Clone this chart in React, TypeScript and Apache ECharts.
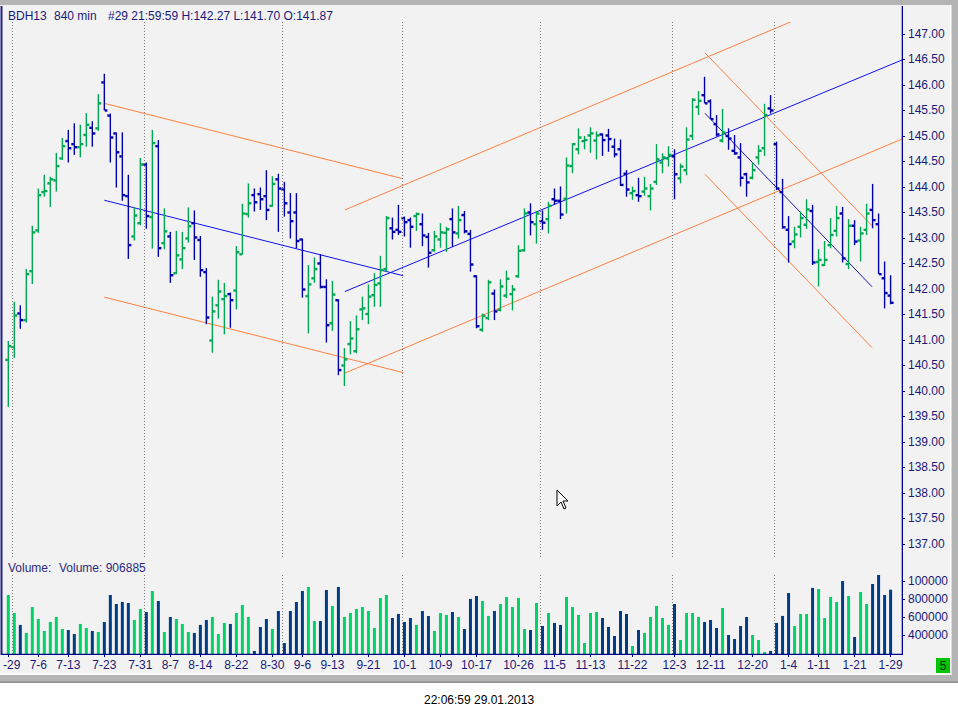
import React, { useEffect, useRef } from "react";
import * as echarts from "echarts";

// ---- price data (OHLC per 840-min bar) ----
const opens = [
  140.61, 140.86, 141.52, 141.39, 142.35, 143.15, 143.90, 144.07, 144.13, 144.56,
  144.90, 144.84, 144.78, 145.02, 145.16, 145.15, 146.05, 145.40, 145.05, 144.60,
  143.82, 143.03, 143.29, 144.44, 143.41, 144.80, 142.90, 143.03, 142.31, 142.58,
  142.99, 143.29, 142.96, 142.33, 140.99, 141.68, 141.80, 141.90, 141.97, 142.68,
  143.47, 143.84, 143.86, 143.82, 143.63, 144.15, 143.95, 143.50, 143.50, 142.97,
  141.86, 142.21, 142.50, 142.04, 141.33, 141.78, 140.50, 140.92, 140.78, 141.60,
  141.51, 141.88, 142.11, 142.39, 143.19, 143.16, 143.39, 143.35, 143.43, 143.27,
  143.02, 142.76, 142.97, 143.10, 143.37, 143.09, 143.45, 143.08, 142.25, 141.20,
  141.43, 141.91, 141.59, 141.87, 141.90, 142.25, 142.76, 143.50, 143.27, 143.33,
  143.37, 143.76, 143.73, 143.77, 144.41, 144.74, 144.90, 145.01, 144.91, 145.03,
  145.01, 144.79, 144.74, 144.26, 143.88, 143.84, 143.91, 143.82, 144.10, 144.48,
  144.56, 144.60, 144.17, 144.33, 145.00, 145.57, 145.80, 145.68, 145.23, 144.91,
  145.00, 144.71, 144.58, 144.25, 144.18, 144.58, 144.76, 145.54, 144.84, 143.90,
  143.16, 142.93, 143.22, 143.26, 143.53, 142.53, 142.47, 142.86, 143.14, 143.48,
  142.49, 143.24, 142.95, 143.16, 143.55, 143.27, 142.21, 141.87,
];
const highs = [
  140.98, 141.75, 141.68, 142.39, 143.24, 143.97, 144.24, 144.20, 144.67, 144.96,
  145.12, 145.25, 145.22, 145.45, 145.29, 145.82, 146.22, 145.44, 145.07, 145.07,
  144.24, 143.60, 144.57, 144.48, 145.12, 144.92, 143.58, 143.12, 143.14, 143.12,
  143.60, 143.54, 143.04, 142.41, 141.85, 142.18, 142.12, 141.93, 142.84, 143.67,
  144.07, 143.97, 143.99, 144.33, 144.21, 144.26, 144.10, 143.88, 143.88, 142.99,
  142.47, 142.62, 142.68, 142.19, 142.16, 141.80, 140.84, 141.37, 141.48, 141.85,
  142.09, 142.31, 142.65, 143.43, 143.40, 143.65, 143.42, 143.40, 143.50, 143.48,
  143.10, 143.14, 143.29, 143.22, 143.58, 143.63, 143.53, 143.16, 142.27, 141.52,
  142.18, 141.99, 142.19, 142.36, 142.08, 142.86, 143.58, 143.68, 143.53, 143.54,
  143.71, 143.97, 144.01, 144.58, 144.86, 145.15, 145.00, 145.17, 145.09, 145.05,
  145.14, 144.95, 144.93, 144.33, 144.01, 144.18, 144.20, 144.06, 144.84, 144.66,
  144.80, 144.74, 144.46, 145.17, 145.74, 145.88, 146.16, 145.72, 145.41, 145.53,
  145.15, 145.02, 144.86, 144.28, 144.48, 144.82, 145.63, 145.80, 144.89, 144.16,
  143.43, 143.22, 143.52, 143.76, 143.65, 142.78, 142.94, 143.39, 143.63, 143.61,
  143.37, 143.35, 143.22, 143.67, 144.06, 143.48, 142.54, 142.27,
];
const lows = [
  139.69, 140.65, 141.22, 141.34, 142.10, 143.10, 143.81, 143.61, 143.91, 144.53,
  144.48, 144.63, 144.58, 144.79, 144.79, 145.10, 145.50, 144.48, 143.99, 143.73,
  142.59, 142.95, 143.25, 143.18, 142.79, 142.63, 142.78, 142.12, 142.29, 142.39,
  142.91, 142.57, 142.24, 141.31, 140.75, 141.42, 141.11, 141.24, 141.60, 142.67,
  143.40, 143.52, 143.55, 143.35, 143.61, 143.12, 143.42, 142.99, 142.80, 141.83,
  141.13, 142.12, 142.01, 140.95, 141.18, 140.31, 140.10, 140.72, 140.74, 141.39,
  141.31, 141.65, 141.65, 142.34, 142.97, 143.06, 143.03, 142.81, 143.14, 142.84,
  142.42, 142.73, 142.81, 142.73, 142.83, 142.99, 143.09, 142.34, 141.23, 141.16,
  141.39, 141.39, 141.56, 141.82, 141.58, 142.22, 142.73, 143.05, 142.89, 143.16,
  143.09, 143.65, 143.37, 143.48, 144.27, 144.64, 144.74, 144.67, 144.54, 144.61,
  144.69, 144.58, 144.02, 143.81, 143.75, 143.71, 143.83, 143.54, 144.04, 144.27,
  144.40, 143.76, 144.07, 144.23, 144.92, 145.41, 145.64, 145.33, 144.99, 144.87,
  144.73, 144.63, 144.01, 143.81, 144.15, 144.44, 144.61, 145.44, 143.94, 143.18,
  142.52, 142.80, 143.01, 143.18, 142.47, 142.05, 142.45, 142.80, 143.03, 142.52,
  142.39, 142.86, 142.54, 143.06, 143.19, 142.29, 141.62, 141.70,
];
const closes = [
  140.88, 141.48, 141.39, 142.29, 143.11, 143.84, 143.92, 144.15, 144.41, 144.80,
  144.76, 144.78, 144.84, 145.22, 145.05, 145.64, 145.50, 144.97, 144.68, 143.84,
  142.86, 143.44, 144.44, 143.43, 144.86, 142.80, 143.13, 142.27, 142.66, 142.80,
  143.23, 143.01, 142.37, 141.44, 141.56, 141.95, 141.86, 141.78, 142.72, 143.48,
  143.68, 143.70, 143.76, 143.55, 144.06, 143.97, 143.68, 143.33, 142.94, 141.99,
  142.09, 142.39, 142.04, 141.29, 141.89, 140.41, 140.62, 141.03, 141.21, 141.62,
  141.85, 142.08, 142.37, 143.39, 143.12, 143.12, 143.31, 143.22, 143.47, 143.05,
  142.71, 143.03, 143.11, 143.17, 143.11, 143.35, 143.13, 142.48, 141.27, 141.47,
  142.13, 141.56, 142.05, 142.20, 141.99, 142.75, 143.48, 143.31, 143.48, 143.30,
  143.63, 143.73, 143.46, 144.42, 144.84, 144.97, 144.92, 145.05, 145.01, 144.92,
  144.94, 144.64, 144.04, 143.95, 143.92, 143.82, 143.97, 143.97, 144.54, 144.58,
  144.63, 144.25, 144.40, 144.93, 145.71, 145.69, 145.64, 145.33, 145.03, 145.07,
  144.95, 144.66, 144.18, 144.09, 144.33, 144.71, 145.41, 145.50, 143.97, 143.21,
  142.88, 143.07, 143.39, 143.56, 142.52, 142.57, 142.57, 143.06, 143.39, 142.60,
  143.24, 142.93, 143.09, 143.48, 143.35, 142.29, 141.92, 141.73,
];
const volumes = [
  848000, 648000, 515000, 426000, 714000, 581000, 448000, 548000, 603000, 470000,
  459000, 414000, 526000, 481000, 448000, 437000, 548000, 848000, 748000, 770000,
  759000, 570000, 692000, 659000, 892000, 781000, 437000, 603000, 581000, 526000,
  437000, 426000, 515000, 570000, 603000, 414000, 537000, 526000, 648000, 737000,
  603000, 226000, 492000, 581000, 470000, 670000, 314000, 670000, 770000, 892000,
  937000, 559000, 559000, 903000, 726000, 937000, 603000, 648000, 692000, 714000,
  670000, 481000, 814000, 848000, 592000, 637000, 548000, 592000, 515000, 670000,
  614000, 448000, 648000, 626000, 659000, 603000, 470000, 803000, 837000, 781000,
  615000, 670000, 748000, 826000, 714000, 815000, 470000, 459000, 759000, 503000,
  648000, 537000, 515000, 826000, 714000, 626000, 314000, 648000, 659000, 592000,
  492000, 392000, 670000, 637000, 281000, 459000, 426000, 603000, 726000, 592000,
  515000, 748000, 348000, 648000, 648000, 603000, 548000, 570000, 481000, 703000,
  403000, 359000, 503000, 603000, 403000, 348000, 214000, 226000, 537000, 615000,
  870000, 503000, 637000, 637000, 926000, 914000, 592000, 826000, 770000, 1003000,
  837000, 381000, 881000, 748000, 970000, 1070000, 848000, 906885,
];

// ---- axis labels ----
const tickIdx = [0, 5, 10, 16, 22, 27, 32, 38, 44, 49, 54, 60, 66, 72, 78, 85, 91, 97, 104, 111, 117, 124, 130, 135, 141, 147];
const tickLabels = ["6-29", "7-6", "7-13", "7-23", "7-31", "8-7", "8-14", "8-22", "8-30", "9-6", "9-13", "9-21", "10-1", "10-9", "10-17", "10-26", "11-5", "11-13", "11-22", "12-3", "12-11", "12-20", "1-4", "1-11", "1-21", "1-29"];
const priceTicks = [137, 137.5, 138, 138.5, 139, 139.5, 140, 140.5, 141, 141.5, 142, 142.5, 143, 143.5, 144, 144.5, 145, 145.5, 146, 146.5, 147];
const volumeTicks = [400000, 600000, 800000, 1000000];
const monthBreaks = [0.67, 22.67, 45.7, 65.7, 88.67, 110.7, 127.67];
const lastPrice = 141.73;
const lastVolume = 906885;

// ---- trend lines (bar index, price) ----
const trendFrom = [
  [16, 145.64], [16, 143.74], [16, 141.84],
  [56.07, 143.55], [56.07, 140.35], [56.07, 141.95],
  [116.07, 146.63], [116.07, 144.25], [116.07, 145.445],
];
const trendTo = [
  [65.8, 144.16], [65.8, 142.26], [65.8, 140.36],
  [130.3, 147.235], [148.9, 144.94], [148.9, 146.49],
  [143.9, 143.24], [143.9, 140.85], [143.9, 142.045],
];
const trendKind = ["o", "b", "o", "o", "o", "b", "o", "o", "d"];

const FONT = "'Liberation Sans', Arial, sans-serif";
const GREEN = "#00a651";
const BLUE = "#0000a8";
const VGREEN = "#00d468";
const VBLUE = "#003d86";
const NAVY = "#1a1a78";
const AXIS = "#00008e";
const ORANGE = "#ff8040";
const TBLUE = "#1010f0";
const DBLUE = "#1a1aa8";

const X_MIN = -1.05;
const X_MAX = 148.9;

export default function App() {
  const ref = useRef<HTMLDivElement>(null);

  useEffect(() => {
    if (!ref.current) return;
    const chart = echarts.init(ref.current, undefined, { renderer: "svg" });

    const ohlc = opens.map((o, i) => [i, o, highs[i], lows[i], closes[i]]);
    const colorOf = (i: number) => (closes[i] >= opens[i] ? GREEN : BLUE);

    const trendSeries: any[] = trendFrom.map((f, k) => ({
      type: "line",
      xAxisIndex: 0,
      yAxisIndex: 0,
      data: [f, trendTo[k]],
      symbol: "none",
      silent: true,
      z: 3,
      lineStyle: {
        width: 1,
        color: trendKind[k] === "o" ? ORANGE : trendKind[k] === "b" ? TBLUE : DBLUE,
      },
    }));

    trendSeries[0].markLine = {
      silent: true,
      symbol: ["none", "none"],
      label: { show: false },
      lineStyle: { type: [1, 2], color: "#7c7c7c", width: 1 },
      data: monthBreaks.map((x) => ({ xAxis: x })),
    };
    trendSeries[1].markLine = {
      silent: true,
      symbol: ["none", "none"],
      data: [
        {
          yAxis: lastPrice,
          lineStyle: { opacity: 0 },
          label: {
            show: true,
            position: "end",
            distance: 4,
            formatter: lastPrice.toFixed(2),
            color: "#ffffff",
            backgroundColor: "#0a0a6e",
            padding: [2, 2, 1, 2],
            fontSize: 12,
            fontFamily: FONT,
          },
        },
      ],
    };

    const labelMap: Record<number, string> = {};
    tickIdx.forEach((t, i) => (labelMap[t] = tickLabels[i]));

    const hiddenLine = { show: false, onZero: false };

    const option: any = {
      animation: false,
      backgroundColor: "#ffffff",
      grid: [
        { left: 2, right: 56, top: 22, height: 535, outerBoundsMode: "none" },
        { left: 2, right: 56, top: 575, height: 79, outerBoundsMode: "none" },
      ],
      xAxis: [
        {
          type: "value",
          gridIndex: 0,
          min: X_MIN,
          max: X_MAX,
          axisLine: hiddenLine,
          axisTick: { show: false },
          axisLabel: { show: false },
          splitLine: { show: false },
        },
        {
          type: "value",
          gridIndex: 1,
          min: X_MIN,
          max: X_MAX,
          axisLine: hiddenLine,
          splitLine: { show: false },
          axisTick: { show: true, customValues: tickIdx, length: 3, lineStyle: { color: AXIS, width: 1 } },
          axisLabel: {
            customValues: tickIdx,
            formatter: (v: number) => labelMap[Math.round(v)] ?? "",
            margin: 5,
            color: NAVY,
            fontSize: 12,
            fontFamily: FONT,
            alignMinLabel: "center",
            alignMaxLabel: "center",
          },
        },
      ],
      yAxis: [
        {
          type: "value",
          gridIndex: 0,
          position: "right",
          min: 136.745,
          max: 147.235,
          axisLine: hiddenLine,
          splitLine: { show: false },
          axisTick: { show: true, customValues: priceTicks, length: 3, lineStyle: { color: AXIS, width: 1 } },
          axisLabel: {
            customValues: priceTicks,
            formatter: (v: number) => v.toFixed(2),
            margin: 6,
            color: NAVY,
            fontSize: 12,
            fontFamily: FONT,
          },
        },
        {
          type: "value",
          gridIndex: 1,
          position: "right",
          min: 192000,
          max: 1070000,
          axisLine: hiddenLine,
          splitLine: { show: false },
          axisTick: { show: true, customValues: volumeTicks, length: 3, lineStyle: { color: AXIS, width: 1 } },
          axisLabel: {
            customValues: volumeTicks,
            formatter: (v: number) => (v >= 1000000 ? "100000" : String(v)),
            margin: 6,
            color: NAVY,
            fontSize: 12,
            fontFamily: FONT,
          },
        },
      ],
      series: [
        {
          type: "custom",
          xAxisIndex: 0,
          yAxisIndex: 0,
          data: ohlc,
          encode: { x: 0, y: [1, 2, 3, 4] },
          z: 4,
          renderItem: (params: any, api: any) => {
            const i = api.value(0);
            const o = api.value(1);
            const h = api.value(2);
            const l = api.value(3);
            const c = api.value(4);
            const x = api.coord([i, o])[0];
            const yO = api.coord([i, o])[1];
            const yH = api.coord([i, h])[1];
            const yL = api.coord([i, l])[1];
            const yC = api.coord([i, c])[1];
            const color = colorOf(params.dataIndex);
            return {
              type: "group",
              children: [
                { type: "rect", shape: { x: x - 0.7, y: yH, width: 1.4, height: Math.max(1, yL - yH) }, style: { fill: color } },
                { type: "rect", shape: { x: x - 3.0, y: yO - 1.2, width: 2.5, height: 2.4 }, style: { fill: color } },
                { type: "rect", shape: { x: x + 0.5, y: yC - 1.2, width: 2.5, height: 2.4 }, style: { fill: color } },
              ],
            };
          },
        },
        ...trendSeries,
        {
          type: "bar",
          xAxisIndex: 1,
          yAxisIndex: 1,
          data: volumes.map((v, i) => [i, v]),
          barWidth: 3,
          itemStyle: {
            color: (p: any) => (closes[p.dataIndex] >= opens[p.dataIndex] ? VGREEN : VBLUE),
          },
          markLine: {
            silent: true,
            symbol: ["none", "none"],
            label: { show: false },
            lineStyle: { type: [1, 2], color: "#7c7c7c", width: 1 },
            data: monthBreaks.map((x) => ({ xAxis: x })),
          },
        },
      ],
      graphic: [
        // window frame and panel background
        { type: "rect", z: -30, shape: { x: 0, y: 0, width: 958, height: 683 }, style: { fill: "#b4b4b4" } },
        { type: "rect", z: -29, shape: { x: 0, y: 681.5, width: 958, height: 1.5 }, style: { fill: "#8e8e8e" } },
        { type: "rect", z: -28, shape: { x: 0, y: 5, width: 951.5, height: 670 }, style: { fill: "#ffffff" } },
        { type: "rect", z: -27, shape: { x: 0, y: 5, width: 950, height: 668.5 }, style: { fill: "#f2f2f2" } },
        // panel borders / axis lines
        { type: "rect", z: 50, shape: { x: 0.5, y: 6, width: 2, height: 649 }, style: { fill: "#20208a" } },
        { type: "rect", z: 50, shape: { x: 901.7, y: 6, width: 1.3, height: 649 }, style: { fill: AXIS } },
        { type: "rect", z: 50, shape: { x: 2, y: 653.7, width: 901, height: 1.3 }, style: { fill: AXIS } },
        { type: "rect", z: 50, shape: { x: 0, y: 656, width: 3, height: 17 }, style: { fill: "#f2f2f2" } },
        // header texts
        { type: "text", z: 50, x: 8, y: 9.5, style: { text: "BDH13", fill: NAVY, font: `12px ${FONT}` } },
        { type: "text", z: 50, x: 54, y: 9.5, style: { text: "840 min", fill: NAVY, font: `12px ${FONT}` } },
        {
          type: "text",
          z: 50,
          x: 108,
          y: 9.5,
          style: {
            text: `#${29} 21:59:59 H:${highs[highs.length - 1].toFixed(2)} L:${lows[lows.length - 1].toFixed(2)} O:${opens[opens.length - 1].toFixed(2)}`,
            fill: NAVY,
            font: `12px ${FONT}`,
          },
        },
        { type: "text", z: 50, x: 8, y: 562, style: { text: "Volume:", fill: "#2e2a80", font: `12px ${FONT}` } },
        { type: "text", z: 50, x: 59, y: 562, style: { text: `Volume: ${lastVolume}`, fill: "#2e2a80", font: `12px ${FONT}` } },
        // green status box
        { type: "rect", z: 50, shape: { x: 936, y: 658, width: 14, height: 15 }, style: { fill: "#00c400" } },
        { type: "text", z: 51, x: 943, y: 665.5, style: { text: "5", fill: "#103010", font: `12px ${FONT}`, align: "center", verticalAlign: "middle" } },
        // timestamp
        { type: "text", z: 50, x: 479, y: 700, style: { text: "22:06:59 29.01.2013", fill: "#000000", font: `12px ${FONT}`, align: "center", verticalAlign: "middle" } },
        // mouse cursor
        {
          type: "polygon",
          z: 60,
          x: 557,
          y: 490,
          shape: { points: [[0, 0], [0, 16], [4, 12], [7, 19], [9, 18], [6, 11], [11, 11]] },
          style: { fill: "#ffffff", stroke: "#000000", lineWidth: 1 },
        },
      ],
    };

    chart.setOption(option);
    return () => chart.dispose();
  }, []);

  return (
    <div
      ref={ref}
      style={{ position: "fixed", left: 0, top: 0, width: 958, height: 717 }}
    />
  );
}
